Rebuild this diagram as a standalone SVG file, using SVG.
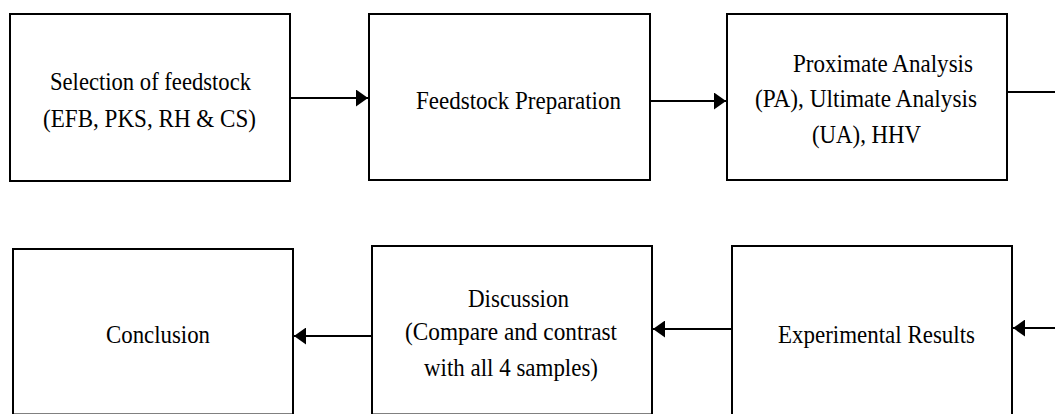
<svg xmlns="http://www.w3.org/2000/svg" width="1055" height="414" viewBox="0 0 1055 414">
<style>
.box{fill:#fff;stroke:#000;stroke-width:2}
.t{font-family:"Liberation Serif","Times New Roman",serif;font-size:26px;fill:#000}
.c{stroke:#000;stroke-width:2;fill:none}
</style>
<defs>
<marker id="ah" markerUnits="userSpaceOnUse" markerWidth="13" markerHeight="17" refX="12" refY="8.5" orient="auto">
<path d="M0,0 L12,8.5 L0,17 Z" fill="#000"/>
</marker>
</defs>
<rect width="1055" height="414" fill="#fff"/>
<g id="n1">
<rect class="box" x="10" y="14" width="280" height="167"/>
<text class="t" x="50" y="90" textLength="201" lengthAdjust="spacingAndGlyphs">Selection of feedstock</text>
<text class="t" x="43" y="127" textLength="213" lengthAdjust="spacingAndGlyphs">(EFB, PKS, RH &amp; CS)</text>
</g>
<g id="n2">
<rect class="box" x="369" y="14" width="281" height="166"/>
<text class="t" x="416" y="109" textLength="205" lengthAdjust="spacingAndGlyphs">Feedstock Preparation</text>
</g>
<g id="n3">
<rect class="box" x="727" y="14" width="280" height="166"/>
<text class="t" x="793" y="72" textLength="180" lengthAdjust="spacingAndGlyphs">Proximate Analysis</text>
<text class="t" x="755" y="107" textLength="222" lengthAdjust="spacingAndGlyphs">(PA), Ultimate Analysis</text>
<text class="t" x="812" y="143" textLength="109" lengthAdjust="spacingAndGlyphs">(UA), HHV</text>
</g>
<g id="n4">
<rect class="box" x="732" y="246" width="280" height="180"/>
<text class="t" x="778" y="343" textLength="197" lengthAdjust="spacingAndGlyphs">Experimental Results</text>
</g>
<g id="n5">
<rect class="box" x="372" y="246" width="280" height="168.5"/>
<text class="t" x="468" y="307" textLength="101" lengthAdjust="spacingAndGlyphs">Discussion</text>
<text class="t" x="405" y="340" textLength="212" lengthAdjust="spacingAndGlyphs">(Compare and contrast</text>
<text class="t" x="424" y="376" textLength="174" lengthAdjust="spacingAndGlyphs">with all 4 samples)</text>
</g>
<g id="n6">
<rect class="box" x="13" y="249" width="280" height="165.5"/>
<text class="t" x="106" y="343" textLength="104" lengthAdjust="spacingAndGlyphs">Conclusion</text>
</g>
<g id="connectors">
<line class="c" x1="291" y1="98" x2="368" y2="98" marker-end="url(#ah)"/>
<line class="c" x1="651" y1="101" x2="726" y2="101" marker-end="url(#ah)"/>
<line class="c" x1="1008" y1="92" x2="1055" y2="92"/>
<line class="c" x1="1055" y1="328" x2="1013" y2="328" marker-end="url(#ah)"/>
<line class="c" x1="731" y1="329" x2="653" y2="329" marker-end="url(#ah)"/>
<line class="c" x1="371" y1="336" x2="294" y2="336" marker-end="url(#ah)"/>
</g>
</svg>
